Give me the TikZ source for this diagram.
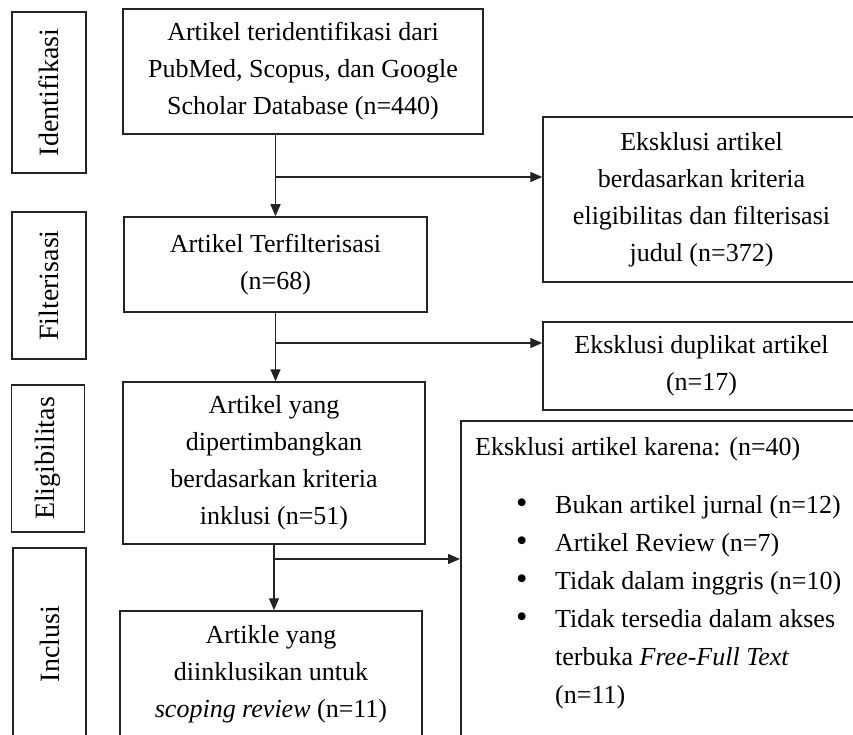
\documentclass[tikz,border=0pt]{standalone}
\usepackage{fontspec}
\setmainfont{Liberation Serif}
\usepackage{tikz}
\usetikzlibrary{arrows.meta}
\definecolor{boxline}{RGB}{35, 35, 35}
\tikzset{
  stagebox/.style={draw=boxline, line width=1.5pt, inner sep=0pt, font=\fontsize{28}{32}\selectfont},
  flowbox/.style={draw=boxline, line width=1.5pt, inner sep=0pt, align=center, font=\fontsize{26}{37}\selectfont},
  flowarrow/.style={line width=1.4pt, draw=boxline, -{Triangle[length=12pt,width=10pt]}},
}
\newcommand{\listdot}{\scalebox{1.25}{\textbullet}}

\begin{document}
\begin{tikzpicture}[x=1pt, y=-1pt]
        \useasboundingbox (0,0) rectangle (853,735);
        \clip (0,0) rectangle (853,735);
        % stage labels on the left
        \node[stagebox, minimum width=74pt, minimum height=161pt] (ident) at (49,92.5) {\rotatebox{90}{Identifikasi}};
        \node[stagebox, minimum width=74pt, minimum height=147pt] (filter) at (49,285.5) {\rotatebox{90}{Filterisasi}};
        \node[stagebox, minimum width=73pt, minimum height=147pt] (elig) at (48,458.5) {\rotatebox{90}{Eligibilitas}};
        \node[stagebox, minimum width=73pt, minimum height=192pt] (incl) at (49.5,644) {\rotatebox{90}{Inclusi}};
        % main column
        \node[flowbox, minimum width=360pt, minimum height=125pt] (found) at (303,71.5) {Artikel teridentifikasi dari\\ PubMed, Scopus, dan Google\\ Scholar Database (n=440)};
        \node[flowbox, minimum width=303pt, minimum height=95pt] (screened) at (275.5,264.5) {Artikel Terfilterisasi\\ (n=68)};
        \node[flowbox, minimum width=302pt, minimum height=162pt] (eligible) at (274,463) {Artikel yang\\ dipertimbangkan\\ berdasarkan kriteria\\ inklusi (n=51)};
        \node[flowbox, minimum width=302pt, minimum height=126pt] (included) at (271,674) {Artikle yang\\ diinklusikan untuk\\ \textit{scoping review} (n=11)};
        % exclusions
        \node[flowbox, minimum width=317pt, minimum height=165pt] (exclfirst) at (701.5,199.5) {Eksklusi artikel\\ berdasarkan kriteria\\ eligibilitas dan filterisasi\\ judul (n=372)};
        \node[flowbox, minimum width=317pt, minimum height=88pt] (excldup) at (701.5,366) {Eksklusi duplikat artikel\\ (n=17)};
        \node[draw=boxline, line width=1.5pt, minimum width=420pt, minimum height=340pt, anchor=north west] (exclwhy) at (460,420) {};
        \node[anchor=base west, inner sep=0pt, font=\fontsize{26}{38}\selectfont] (exclhead) at (475,455) {Eksklusi artikel karena: (n=40)};
        \node[anchor=base west, inner sep=0pt, font=\fontsize{26}{38}\selectfont] (excllist) at (516,513) {%
          \begin{tabular}[t]{@{}p{39pt}@{}l@{}}
            \listdot & Bukan artikel jurnal (n=12)\\
            \listdot & Artikel Review (n=7)\\
            \listdot & Tidak dalam inggris (n=10)\\
            \listdot & Tidak tersedia dalam akses\\
                     & terbuka \textit{Free-Full Text}\\
                     & (n=11)
          \end{tabular}};
        % connectors
        \coordinate (splitA) at (275,177);
        \coordinate (splitB) at (275,343);
        \coordinate (splitC) at (275,559);
        \draw[flowarrow] (screened.north |- found.south) -- (screened.north);
        \draw[flowarrow] (splitA) -- (splitA -| exclfirst.west);
        \draw[flowarrow] (screened.south) -- (screened.south |- eligible.north);
        \draw[flowarrow] (splitB) -- (splitB -| excldup.west);
        \draw[flowarrow] (eligible.south) -- (eligible.south |- included.north);
        \draw[flowarrow] (splitC) -- (splitC -| exclwhy.west);
      \end{tikzpicture}
\end{document}
